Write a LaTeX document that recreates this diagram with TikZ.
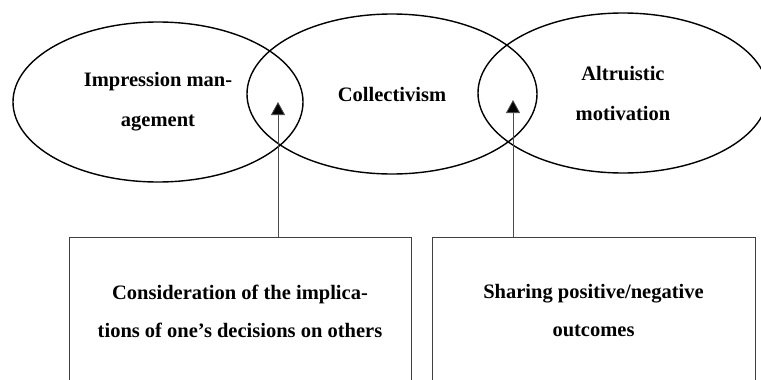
\documentclass[tikz,border=0pt]{standalone}
\usepackage{fontspec}
\setmainfont{Liberation Serif}
\usetikzlibrary{shapes.geometric,arrows.meta}

\tikzset{
	circ/.style={draw,ellipse,line width=1.4pt,minimum width=290pt,minimum height=160pt,
		inner sep=0pt,align=center,font=\bfseries\fontsize{20.5}{40}\selectfont},
	outbox/.style={draw=black!75,line width=0.8pt,minimum height=148pt,inner sep=0pt,
		align=center,font=\bfseries\fontsize{20.5}{38}\selectfont},
	link/.style={draw=black!70,line width=0.8pt,-{Triangle[length=13pt,width=14pt,fill=black]}}
}

\begin{document}
\begin{tikzpicture}[x=1pt,y=-1pt]
	\useasboundingbox (0,0) rectangle (761,380);
	\clip (0,0) rectangle (761,380);
	%% the three circles
	\node[circ] (impr) at (158,102) {Impression man-\\agement};
	\node[circ] (coll) at (392,94) {Collectivism};
	\node[circ] (altr) at (623,93) {Altruistic\\motivation};
	%% boxes below
	\node[outbox,minimum width=342pt] (cons) at (240,311)
		{Consideration of the implica-\\tions of one’s decisions on others};
	\node[outbox,minimum width=323pt] (shar) at (593.5,311)
		{Sharing positive/negative\\outcomes};
	% the arrows point into the overlaps
	\coordinate (t1) at (278,102);
	\coordinate (t2) at (513,100);
	\draw[link] (cons.north -| t1) -- (t1);
	\draw[link] (shar.north -| t2) -- (t2);
\end{tikzpicture}
\end{document}
